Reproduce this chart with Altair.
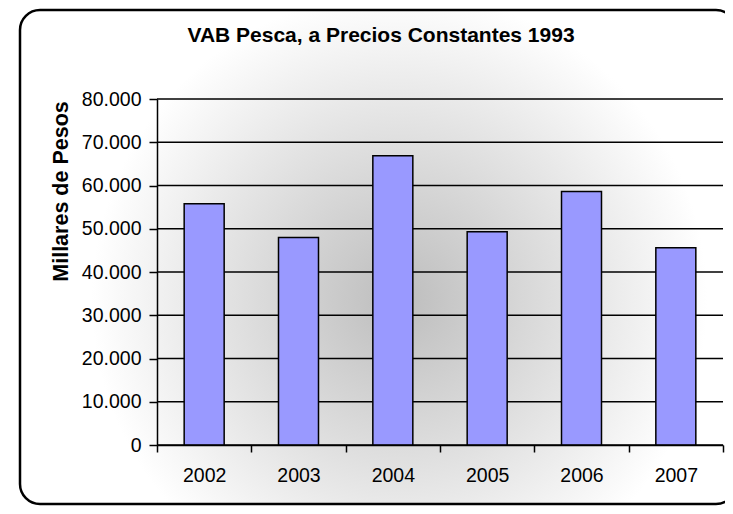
import altair as alt
import pandas as pd

TITLE = "VAB Pesca, a Precios Constantes 1993"
Y_TITLE = "Millares de Pesos"
years = ["2002", "2003", "2004", "2005", "2006", "2007"]
values = [55800, 48000, 66900, 49300, 58600, 45600]
y_ticks = [0, 10000, 20000, 30000, 40000, 50000, 60000, 70000, 80000]

FONT = "Liberation Sans"

df = pd.DataFrame({"year": years, "value": values})
grid_df = pd.DataFrame({"tick": y_ticks})

W, H = 566, 346

gradient = alt.RadialGradient(
    gradient="radial",
    stops=[
        alt.GradientStop(offset=0, color="#bdbdbd"),
        alt.GradientStop(offset=1, color="#ffffff"),
    ],
    x1=0.53, y1=0.56, r1=0,
    x2=0.53, y2=0.56, r2=0.43,
)

frame = alt.Chart(alt.Data(values=[{}])).mark_rect(
    fill=gradient, stroke="black", strokeWidth=2.5, cornerRadius=20
).encode(
    x=alt.value(-137), x2=alt.value(579),
    y=alt.value(-89), y2=alt.value(405),
)

title = alt.Chart(alt.Data(values=[{}])).mark_text(
    text=TITLE, font=FONT, fontSize=21, fontWeight="bold",
    align="center", baseline="alphabetic", color="black",
).encode(x=alt.value(224), y=alt.value(-57))

y_scale = alt.Scale(domain=[0, 80000], nice=False, zero=True)

x_axis = alt.Axis(
    title=None, labelAngle=0, labelFont=FONT, labelFontSize=19.5, labelColor="black",
    labelPadding=14, tickBand="extent", tickSize=7, tickColor="black", tickWidth=1.5,
    domainColor="black", domainWidth=1.5, grid=False, zindex=1,
)
y_axis = alt.Axis(
    values=y_ticks,
    labelExpr="replace(format(datum.value, ','), ',', '.')",
    labelFont=FONT, labelFontSize=19.5, labelColor="black", labelPadding=8,
    tickSize=8, tickColor="black", tickWidth=1.5,
    domainColor="black", domainWidth=1.5, grid=False, zindex=1,
    title=Y_TITLE, titleFont=FONT, titleFontSize=21.5, titleFontWeight="bold",
    titleColor="black", titleX=-96, titleY=92, titleAngle=270,
    titleAlign="center", titleBaseline="middle",
)

grid = alt.Chart(grid_df).mark_rule(color="black", strokeWidth=1.5).encode(
    y=alt.Y("tick:Q", scale=y_scale, axis=y_axis)
)

bars = alt.Chart(df).mark_bar(
    color="#9999FF", stroke="black", strokeWidth=1.5,
    width=alt.RelativeBandSize(0.424),
).encode(
    x=alt.X("year:N", sort=years, scale=alt.Scale(paddingInner=0, paddingOuter=0), axis=x_axis),
    y=alt.Y("value:Q", scale=y_scale, axis=y_axis),
)

chart = alt.layer(frame, title, grid, bars).properties(
    width=W, height=H,
    padding={"left": 149, "top": 91, "right": 2, "bottom": 61},
    autosize=alt.AutoSizeParams(type="none"),
    background="white",
).configure_view(stroke=None)

chart.save("out.html", embed_options={"renderer": "svg", "actions": False})
